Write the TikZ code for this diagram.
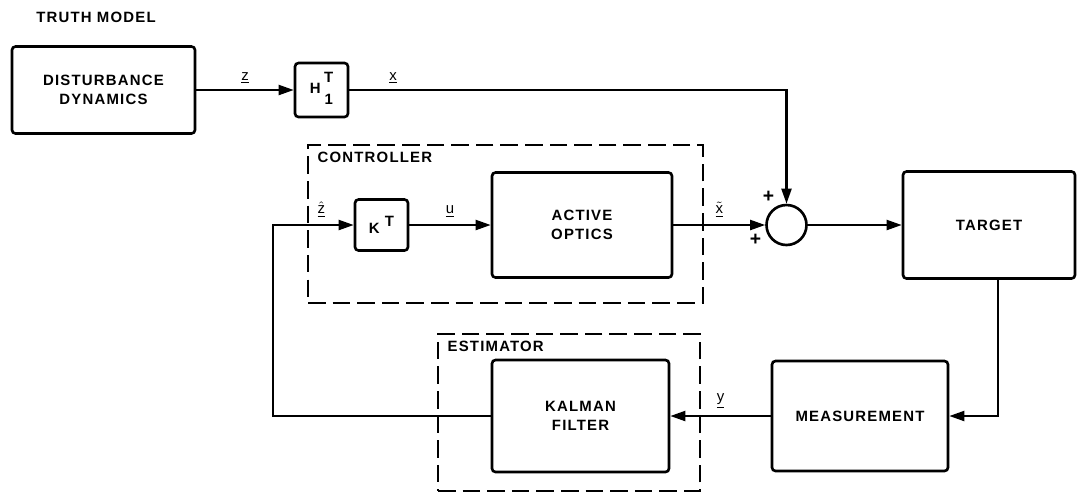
\documentclass[tikz,border=0pt]{standalone}
\usepackage{fontspec}
\setmainfont{Liberation Sans}[LetterSpace=8]
\setsansfont{Liberation Sans}
\usetikzlibrary{arrows.meta,positioning}

\tikzset{
  block/.style={draw, line width=1.5pt, rounded corners=2pt, align=center,
    font=\fontsize{8.5}{10.5}\selectfont\bfseries},
  dashframe/.style={draw, line width=1.1pt, dash pattern=on 10pt off 4pt},
  lbl/.style={font=\fontsize{8.5}{10}\selectfont\bfseries, inner sep=1pt},
  wire/.style={line width=1.2pt, -{Triangle[length=3mm,width=2mm]}},
}

\begin{document}
\begin{tikzpicture}[scale=1]
      % \draw[help lines, gray!50, very thin] (0,0) grid (21,-9);
      \useasboundingbox (0,0) rectangle (21.62,-9.86);

      % truth model
      \node[lbl] (truth) at (1.92,-0.34) {TRUTH MODEL};
      \node[block, minimum width=3.66cm, minimum height=1.74cm] (dist) at (2.07,-1.80) {DISTURBANCE\\DYNAMICS};
      \node[block, minimum width=1.06cm, minimum height=1.08cm, inner sep=0pt] (H) at (6.43,-1.80)
        {H\hspace{2pt}\begin{tabular}[c]{@{}c@{}}T\\[2pt]1\end{tabular}};

      % controller
      \node[dashframe, minimum width=7.90cm, minimum height=3.16cm] (ctrl) at (10.11,-4.48) {};
      \node[lbl, anchor=north west] (ctrllbl) at ([shift={(0.17,-0.11)}]ctrl.north west) {CONTROLLER};
      \node[block, minimum width=1.06cm, minimum height=1.02cm] (K) at (7.63,-4.5) {K\hspace{3pt}\raisebox{0.9ex}{T}};
      \node[block, minimum width=3.6cm, minimum height=2.1cm] (optics) at (11.64,-4.5) {ACTIVE\\OPTICS};

      % summing junction and plant
      \node[draw, circle, line width=1.5pt, minimum size=0.8cm, inner sep=0pt] (sum) at (15.73,-4.5) {};
      \node[lbl, font=\fontsize{11}{12}\selectfont\bfseries] (plusA) at ([shift={(-0.36,0.56)}]sum) {+};
      \node[lbl, font=\fontsize{11}{12}\selectfont\bfseries] (plusB) at ([shift={(-0.62,-0.30)}]sum) {+};
      \node[block, minimum width=3.44cm, minimum height=2.14cm] (target) at (19.78,-4.5) {TARGET};
      \node[block, minimum width=3.52cm, minimum height=2.2cm] (meas) at (17.20,-8.32) {MEASUREMENT};

      % estimator
      \node[dashframe, minimum width=5.24cm, minimum height=3.14cm] (est) at (11.38,-8.25) {};
      \node[lbl, anchor=north west] (estlbl) at ([shift={(0.17,-0.11)}]est.north west) {ESTIMATOR};
      \node[block, minimum width=3.54cm, minimum height=2.24cm] (kalman) at (11.61,-8.32) {KALMAN\\FILTER};

      % signals
      \coordinate (fb) at (5.46,-4.5);
      \draw[wire] (dist) -- node[lbl, above=2pt] {$\underline{\mathsf{z}}$} (H);
      \draw[wire] (H) -| node[lbl, above=2pt, pos=0.05] {$\underline{\mathsf{x}}$} (sum);
      \draw[wire] (K) -- node[lbl, above=3pt] {$\underline{\mathsf{u}}$} (optics);
      \draw[wire] (optics) -- node[lbl, above=3pt] {$\underline{\tilde{\mathsf{x}}}$} (sum);
      \draw[wire] (sum) -- (target);
      \draw[wire] ([xshift=0.18cm]target.south) |- (meas.east);
      \draw[wire] (meas) -- node[lbl, above=3pt] {$\underline{\mathsf{y}}$} (kalman);
      \draw[wire] (kalman.west) -| (fb) -- node[lbl, above=3pt, pos=0.6] {$\underline{\hat{\mathsf{z}}}$} (K);
\end{tikzpicture}
\end{document}
